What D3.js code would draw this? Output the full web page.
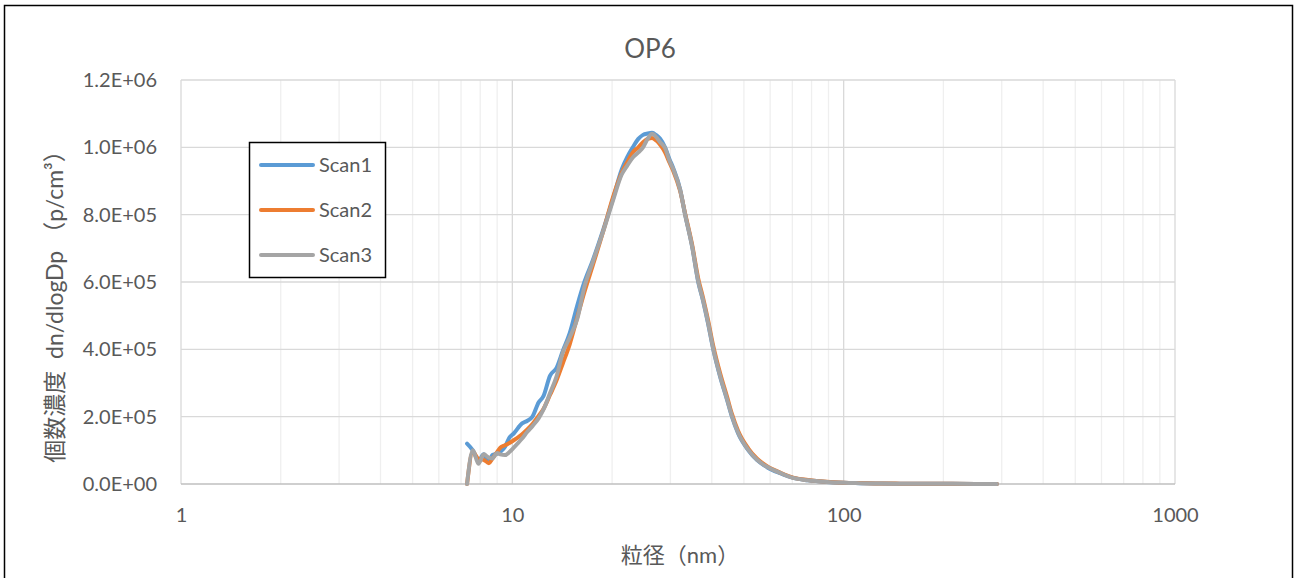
<!DOCTYPE html>
<html>
<head>
<meta charset="utf-8">
<script src="https://cdn.jsdelivr.net/npm/d3@7"></script>
<style>
  body { margin: 0; background: #fff; }
  text { font-family: Lato, "Noto Sans CJK JP", sans-serif; fill: #595959; }
</style>
</head>
<body>
<div id="chart"></div>
<script>
var width = 1297, height = 578;

// particle diameter (nm)
var diameters = [7.3, 7.6, 7.9, 8.2, 8.5, 8.7, 9.0, 9.2, 9.5, 9.8, 10.1, 10.7, 11.1, 11.5, 12.0, 12.4,
  13.0, 13.6, 14.2, 14.9, 15.7, 16.5, 17.5, 18.8, 20.1, 21.4, 22.2, 23.1, 24.0, 24.8, 25.6, 26.4,
  27.2, 27.9, 28.9, 29.8, 30.6, 32.1, 33.2, 34.9, 36.4, 37.6, 39.0, 40.4, 42.4, 44.5, 46.0, 48.0,
  51.5, 54.8, 58.7, 64.3, 70.4, 78, 89, 100, 112, 130, 148, 175, 210, 250, 290];

var scan1 = [1.20e5, 1.00e5, 0.70e5, 0.88e5, 0.66e5, 0.86e5, 0.90e5, 0.96e5, 1.10e5, 1.38e5, 1.50e5, 1.80e5, 1.88e5, 2.00e5, 2.42e5, 2.60e5,
  3.22e5, 3.45e5, 3.95e5, 4.48e5, 5.30e5, 6.00e5, 6.65e5, 7.55e5, 8.45e5, 9.35e5, 9.70e5, 1.000e6, 1.025e6, 1.037e6, 1.041e6, 1.043e6,
  1.036e6, 1.026e6, 1.000e6, 9.65e5, 9.38e5, 8.75e5, 8.02e5, 7.04e5, 6.00e5, 5.46e5, 4.75e5, 4.00e5, 3.18e5, 2.49e5, 2.00e5, 1.51e5,
  1.01e5, 7.1e4, 5.0e4, 3.2e4, 1.8e4, 1.1e4, 6.0e3, 3.5e3, 2.5e3, 1.5e3, 1.0e3, 6.0e2, 4.0e2, 2.0e2, 1.0e2];

var scan2 = [0, 0.95e5, 0.75e5, 0.72e5, 0.62e5, 0.75e5, 0.95e5, 1.08e5, 1.15e5, 1.22e5, 1.30e5, 1.48e5, 1.62e5, 1.78e5, 2.02e5, 2.22e5,
  2.65e5, 3.08e5, 3.58e5, 4.15e5, 4.95e5, 5.70e5, 6.50e5, 7.50e5, 8.50e5, 9.25e5, 9.55e5, 9.85e5, 1.000e6, 1.015e6, 1.025e6, 1.028e6,
  1.020e6, 1.008e6, 9.85e5, 9.55e5, 9.30e5, 8.70e5, 8.05e5, 7.10e5, 6.10e5, 5.55e5, 4.85e5, 4.10e5, 3.28e5, 2.58e5, 2.08e5, 1.58e5,
  1.06e5, 7.5e4, 5.3e4, 3.4e4, 1.9e4, 1.2e4, 6.5e3, 4.0e3, 2.7e3, 1.6e3, 1.1e3, 7.0e2, 4.0e2, 2.0e2, 1.0e2];

var scan3 = [0, 1.00e5, 0.60e5, 0.88e5, 0.78e5, 0.76e5, 0.92e5, 0.88e5, 0.86e5, 0.95e5, 1.08e5, 1.35e5, 1.55e5, 1.72e5, 1.95e5, 2.20e5,
  2.70e5, 3.20e5, 3.90e5, 4.35e5, 4.90e5, 5.85e5, 6.60e5, 7.50e5, 8.40e5, 9.20e5, 9.45e5, 9.70e5, 9.85e5, 1.000e6, 1.025e6, 1.040e6,
  1.030e6, 1.016e6, 9.98e5, 9.60e5, 9.35e5, 8.73e5, 8.02e5, 7.05e5, 6.02e5, 5.48e5, 4.78e5, 4.02e5, 3.20e5, 2.51e5, 2.02e5, 1.53e5,
  1.02e5, 7.2e4, 5.1e4, 3.3e4, 1.8e4, 1.1e4, 6.0e3, 3.5e3, 2.5e3, 1.5e3, 1.0e3, 6.0e2, 4.0e2, 2.0e2, 1.0e2];

var seriesNames = ["Scan1", "Scan2", "Scan3"];
var seriesColors = ["#5B9BD5", "#ED7D31", "#A5A5A5"];
var yTicks = [0, 2e5, 4e5, 6e5, 8e5, 1.0e6, 1.2e6];
var xTicks = [1, 10, 100, 1000];

var svg = d3.select("#chart").append("svg")
    .attr("width", width)
    .attr("height", height);

svg.append("rect")
    .attr("x", 4.5).attr("y", 5.5)
    .attr("width", 1288).attr("height", 620)
    .attr("fill", "#fff")
    .attr("stroke", "#000").attr("stroke-width", 1.5);

var x = d3.scaleLog().domain([1, 1000]).range([181, 1175]);
var y = d3.scaleLinear().domain([0, 1.2e6]).range([484, 80]);

// minor vertical grid
var minor = [];
[1, 10, 100].forEach(function(dec){
    for(var k = 2; k <= 9; k++) minor.push(dec * k);
});
svg.append("g").selectAll("line")
    .data(minor)
    .enter().append("line")
    .attr("x1", function(d){ return x(d); })
    .attr("x2", function(d){ return x(d); })
    .attr("y1", y(1.2e6)).attr("y2", y(0))
    .attr("stroke", "#EFEFEF").attr("stroke-width", 1.3);

// major grid
svg.append("g").selectAll("line")
    .data(xTicks)
    .enter().append("line")
    .attr("x1", function(d){ return x(d); })
    .attr("x2", function(d){ return x(d); })
    .attr("y1", y(1.2e6)).attr("y2", y(0))
    .attr("stroke", "#D9D9D9").attr("stroke-width", 1.3);

svg.append("g").selectAll("line")
    .data(yTicks)
    .enter().append("line")
    .attr("x1", x(1)).attr("x2", x(1000))
    .attr("y1", function(d){ return y(d); })
    .attr("y2", function(d){ return y(d); })
    .attr("stroke", function(d){ return d === 0 ? "#BFBFBF" : "#D9D9D9"; })
    .attr("stroke-width", 1.3);

// axes labels
var yAxis = d3.axisLeft(y).tickValues(yTicks)
    .tickFormat(function(d){ return d.toExponential(1).replace("e+", "E+0").toUpperCase(); })
    .tickSize(0).tickPadding(24);
var gy = svg.append("g").attr("transform", "translate(" + x(1) + ",0)").call(yAxis);
gy.select(".domain").remove();
gy.selectAll("text").style("font-size", "20px").attr("fill", "#595959");

var xAxis = d3.axisBottom(x).tickValues(xTicks).tickFormat(d3.format("d")).tickSize(0).tickPadding(24);
var gx = svg.append("g").attr("transform", "translate(0," + y(0) + ")").call(xAxis);
gx.select(".domain").remove();
gx.selectAll("text").style("font-size", "20px").attr("fill", "#595959");

// series lines
var line = d3.line()
    .x(function(d){ return x(d[0]); })
    .y(function(d){ return y(d[1]); })
    .curve(d3.curveMonotoneX);

[scan1, scan2, scan3].forEach(function(vals, i){
    svg.append("path")
        .datum(d3.zip(diameters, vals))
        .attr("d", line)
        .attr("fill", "none")
        .attr("stroke", seriesColors[i])
        .attr("stroke-width", 4)
        .attr("stroke-linejoin", "round")
        .attr("stroke-linecap", "round");
});

// title
svg.append("text")
    .attr("x", 650).attr("y", 58)
    .attr("text-anchor", "middle")
    .style("font-size", "26px")
    .text("OP6");

// axis titles
svg.append("text")
    .attr("x", 680).attr("y", 563)
    .attr("text-anchor", "middle")
    .style("font-size", "22px")
    .text("粒径（nm）");

svg.append("text")
    .attr("transform", "translate(63,301) rotate(-90)")
    .attr("text-anchor", "middle")
    .style("font-size", "23px")
    .style("white-space", "pre")
    .text("個数濃度  dn/dlogDp （p/cm³）");

// legend
var legend = svg.append("g");
legend.append("rect")
    .attr("x", 249.5).attr("y", 142.5)
    .attr("width", 136).attr("height", 135)
    .attr("fill", "#fff")
    .attr("stroke", "#000").attr("stroke-width", 1.5);

var item = legend.selectAll("g.item")
    .data(seriesNames)
    .enter().append("g")
    .attr("class", "item")
    .attr("transform", function(d, i){ return "translate(0," + (165 + i * 45) + ")"; });
item.append("line")
    .attr("x1", 261).attr("x2", 313)
    .attr("stroke", function(d, i){ return seriesColors[i]; })
    .attr("stroke-width", 4)
    .attr("stroke-linecap", "round");
item.append("text")
    .attr("x", 319).attr("y", 7)
    .style("font-size", "20px")
    .text(function(d){ return d; });
</script>
</body>
</html>
